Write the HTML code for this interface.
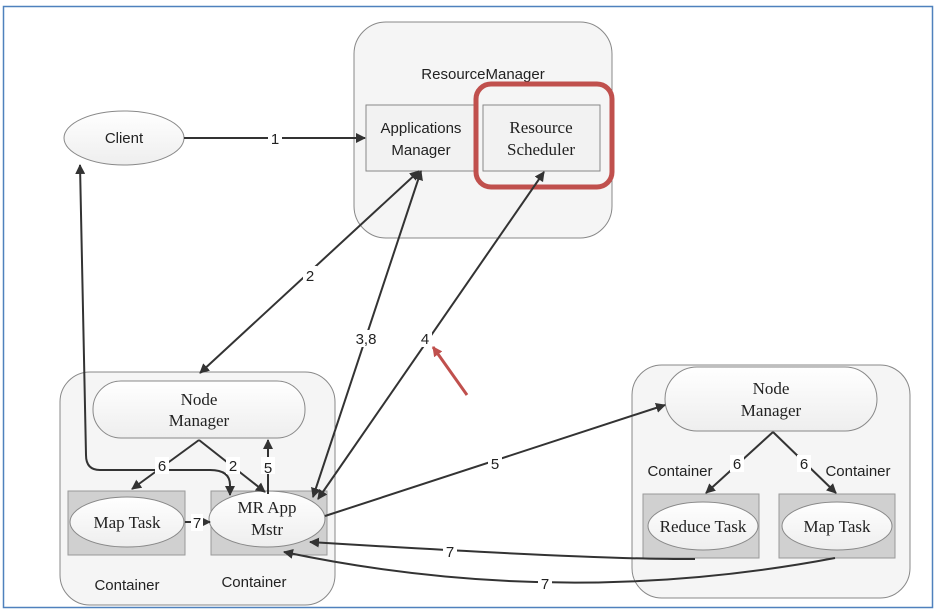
<!DOCTYPE html>
<html><head><style>
body{margin:0;background:#fff;}
svg{display:block;}
.s{font-family:"Liberation Serif",serif;font-size:17px;fill:#222;text-anchor:middle;}
.a{font-family:"Liberation Sans",sans-serif;font-size:15px;fill:#222;text-anchor:middle;}
</style></head><body>
<svg width="941" height="614" viewBox="0 0 941 614" xmlns="http://www.w3.org/2000/svg">
<defs>
<marker id="h" markerWidth="10" markerHeight="10" refX="9" refY="5" orient="auto-start-reverse" markerUnits="userSpaceOnUse" viewBox="0 0 10 10"><path d="M0,0 L10,5 L0,10 z" fill="#333"/></marker>
<marker id="hr" markerWidth="10" markerHeight="10" refX="9" refY="5" orient="auto" markerUnits="userSpaceOnUse" viewBox="0 0 10 10"><path d="M0,0 L10,5 L0,10 z" fill="#c0504d"/></marker>
<linearGradient id="g" x1="0" y1="0" x2="0" y2="1"><stop offset="0" stop-color="#fff"/><stop offset="1" stop-color="#eee"/></linearGradient>
</defs>
<rect x="3.5" y="6.5" width="929" height="601" fill="none" stroke="#4f81bd" stroke-width="1.5"/>
<!-- RM -->
<rect x="354" y="22" width="258" height="216" rx="32" fill="#f5f5f5" stroke="#888"/>
<text class="a" x="483" y="79">ResourceManager</text>
<rect x="366" y="105" width="110" height="66" fill="#f2f2f2" stroke="#888"/>
<text class="a" x="421" y="133">Applications</text><text class="a" x="421" y="155">Manager</text>
<rect x="483" y="105" width="117" height="66" fill="#f2f2f2" stroke="#888"/>
<text class="s" x="541" y="133">Resource</text><text class="s" x="541" y="155">Scheduler</text>
<rect x="476" y="84" width="136" height="103" rx="15" fill="none" stroke="#c0504d" stroke-width="5"/>
<!-- Client -->
<ellipse cx="124" cy="138" rx="60" ry="27" fill="url(#g)" stroke="#888"/>
<text class="a" x="124" y="143">Client</text>
<!-- left container -->
<rect x="60" y="372" width="275" height="233" rx="30" fill="#f5f5f5" stroke="#888"/>
<rect x="93" y="381" width="212" height="57" rx="28" fill="url(#g)" stroke="#888"/>
<text class="s" x="199" y="405">Node</text><text class="s" x="199" y="426">Manager</text>
<rect x="68" y="491" width="117" height="64" fill="#d0d0d0" stroke="#999"/>
<ellipse cx="127" cy="522" rx="57" ry="25" fill="url(#g)" stroke="#888"/>
<text class="s" x="127" y="528">Map Task</text>
<rect x="211" y="491" width="116" height="64" fill="#d0d0d0" stroke="#999"/>
<ellipse cx="267" cy="519" rx="58" ry="28" fill="url(#g)" stroke="#888"/>
<text class="s" x="267" y="513">MR App</text><text class="s" x="267" y="535">Mstr</text>
<text class="a" x="127" y="590">Container</text><text class="a" x="254" y="587">Container</text>
<!-- right container -->
<rect x="632" y="365" width="278" height="233" rx="30" fill="#f5f5f5" stroke="#888"/>
<rect x="665" y="367" width="212" height="64" rx="32" fill="url(#g)" stroke="#888"/>
<text class="s" x="771" y="394">Node</text><text class="s" x="771" y="416">Manager</text>
<rect x="643" y="494" width="116" height="64" fill="#d0d0d0" stroke="#999"/>
<ellipse cx="703" cy="526" rx="55" ry="24" fill="url(#g)" stroke="#888"/>
<text class="s" x="703" y="532">Reduce Task</text>
<rect x="779" y="494" width="116" height="64" fill="#d0d0d0" stroke="#999"/>
<ellipse cx="837" cy="526" rx="55" ry="24" fill="url(#g)" stroke="#888"/>
<text class="s" x="837" y="532">Map Task</text>
<text class="a" x="680" y="476">Container</text><text class="a" x="858" y="476">Container</text>
<!-- arrows -->
<g stroke="#333" stroke-width="2" fill="none">
<line x1="184" y1="138" x2="365" y2="138" marker-end="url(#h)"/>
<line x1="200" y1="373" x2="419" y2="171" marker-start="url(#h)" marker-end="url(#h)"/>
<line x1="313" y1="497" x2="421" y2="171" marker-start="url(#h)" marker-end="url(#h)"/>
<line x1="318" y1="499" x2="544" y2="172" marker-start="url(#h)" marker-end="url(#h)"/>
<line x1="325" y1="516" x2="665" y2="405" marker-end="url(#h)"/>
<path d="M695,559 Q600,560 310,542" marker-end="url(#h)"/>
<path d="M835,558 Q560,610 284,552" marker-end="url(#h)"/>
<path d="M230,495 L230,485 Q230,470 210,470 L100,470 Q86,470 86,455 L80,165" marker-start="url(#h)" marker-end="url(#h)"/>
<path d="M199,440 L132,489" marker-end="url(#h)"/>
<path d="M199,440 L265,492" marker-end="url(#h)"/>
<line x1="268" y1="494" x2="268" y2="440" marker-end="url(#h)"/>
<line x1="185" y1="522" x2="210" y2="522" marker-end="url(#h)"/>
<path d="M773,432 L706,493" marker-end="url(#h)"/>
<path d="M773,432 L836,493" marker-end="url(#h)"/>
</g>
<line x1="467" y1="395" x2="433" y2="347" stroke="#c0504d" stroke-width="3" marker-end="url(#hr)"/>
<g class="a">
<rect x="268" y="130" width="14" height="16" fill="#fff"/><text class="a" x="275" y="144">1</text>
<rect x="303" y="266" width="14" height="17" fill="#fff"/><text class="a" x="310" y="281">2</text>
<rect x="352" y="330" width="28" height="17" fill="#fff"/><text class="a" x="366" y="344">3,8</text>
<rect x="418" y="330" width="14" height="17" fill="#fff"/><text class="a" x="425" y="344">4</text>
<rect x="488" y="455" width="14" height="17" fill="#fff"/><text class="a" x="495" y="469">5</text>
<rect x="155" y="457" width="14" height="17" fill="#fff"/><text class="a" x="162" y="471">6</text>
<rect x="226" y="457" width="14" height="17" fill="#fff"/><text class="a" x="233" y="471">2</text>
<rect x="261" y="457" width="14" height="17" fill="#fff"/><text class="a" x="268" y="473">5</text>
<rect x="191" y="514" width="12" height="17" fill="#fff"/><text class="a" x="197" y="528">7</text>
<rect x="443" y="543" width="14" height="17" fill="#fff"/><text class="a" x="450" y="557">7</text>
<rect x="538" y="575" width="14" height="17" fill="#fff"/><text class="a" x="545" y="589">7</text>
<rect x="730" y="455" width="14" height="17" fill="#fff"/><text class="a" x="737" y="469">6</text>
<rect x="797" y="455" width="14" height="17" fill="#fff"/><text class="a" x="804" y="469">6</text>
</g>
</svg>
</body></html>
